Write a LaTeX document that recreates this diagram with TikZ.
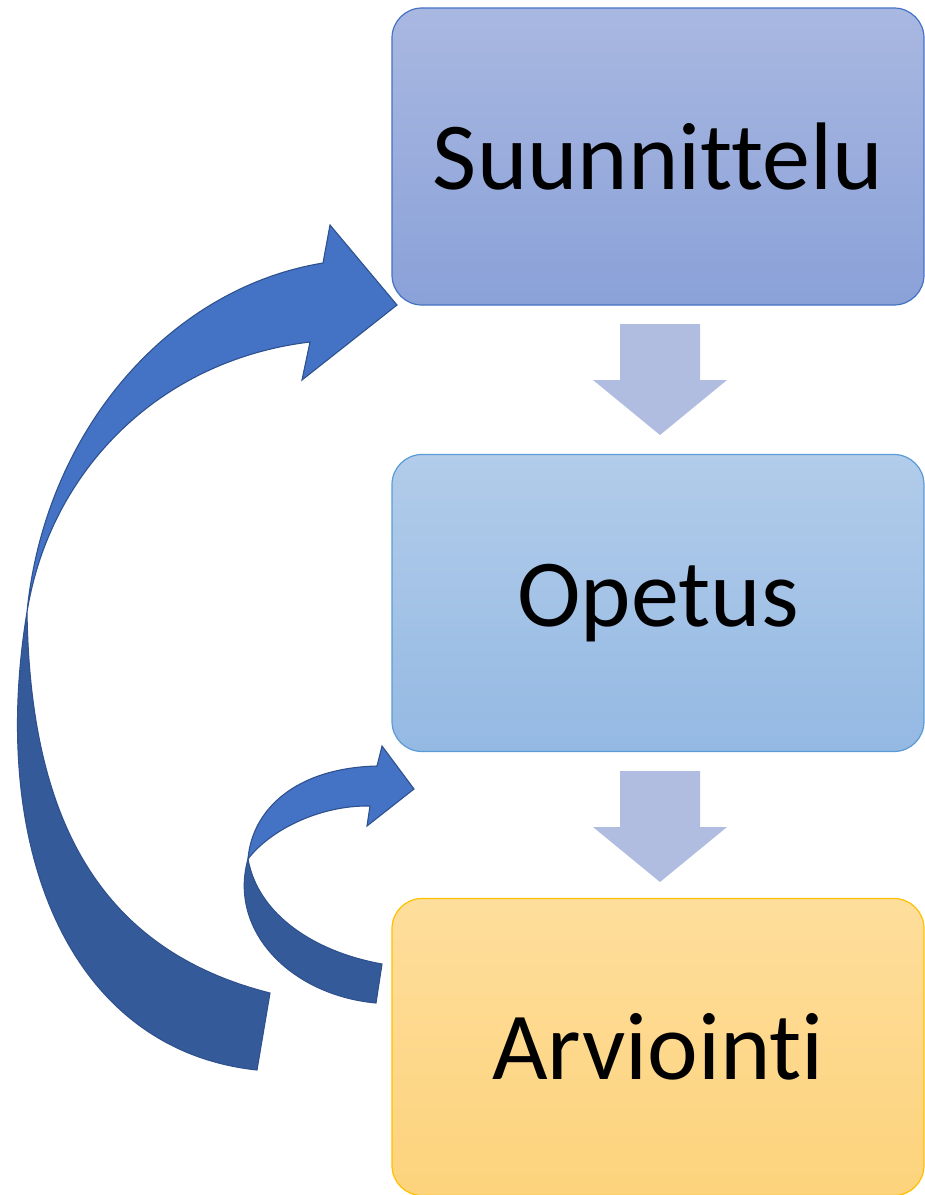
\documentclass[tikz,border=0pt]{standalone}
\usepackage{fontspec}
\setmainfont{Carlito}[RawFeature={-liga;-clig}]
\definecolor{sTop}{RGB}{169,184,225}
\definecolor{sBot}{RGB}{138,161,216}
\definecolor{sLine}{RGB}{68,114,196}
\definecolor{oTop}{RGB}{178,204,234}
\definecolor{oBot}{RGB}{148,185,227}
\definecolor{oLine}{RGB}{91,155,213}
\definecolor{aTop}{RGB}{254,222,156}
\definecolor{aBot}{RGB}{253,211,124}
\definecolor{aLine}{RGB}{255,192,0}
\definecolor{downC}{RGB}{176,189,224}
\definecolor{bandLight}{RGB}{68,114,196}
\definecolor{bandDark}{RGB}{53,90,154}
\definecolor{bandLine}{RGB}{47,82,143}
\tikzset{
  stage/.style={draw, line width=1.2pt, rounded corners=30pt, inner sep=0pt,
    minimum width=532pt, minimum height=297pt, font=\fontsize{96}{110}\selectfont},
  downarrow/.style={fill=downC},
  bandfront/.style={fill=bandLight, draw=bandLine, line width=1.1pt, line join=miter},
  bandback/.style={fill=bandDark, draw=bandLine, line width=1.1pt, line join=miter}
}
\begin{document}
\begin{tikzpicture}[x=1pt,y=-1pt]
\useasboundingbox (0,0) rectangle (925,1195);
\node[stage, draw=sLine, top color=sTop, bottom color=sBot] (S) at (658,156.5) {Suunnittelu};
\node[stage, draw=oLine, top color=oTop, bottom color=oBot] (O) at (658,603) {Opetus};
\node[stage, draw=aLine, top color=aTop, bottom color=aBot] (A) at (658,1047) {Arviointi};
% down arrows
\fill[downarrow] (620,324) -- (700,324) -- (700,380) -- (727,380) -- (660,435) -- (593,380) -- (620,380) -- cycle;
\fill[downarrow] (620,771) -- (700,771) -- (700,827) -- (727,827) -- (660,882) -- (593,827) -- (620,827) -- cycle;
% big curved arrow: back part
\filldraw[bandback] (27,612) .. controls (-12,850) and (70,1050) .. (257,1070)
  -- (270,993) .. controls (100,950) and (30,820) .. cycle;
% big curved arrow: front part
\filldraw[bandfront] (27,612) .. controls (45,430) and (170,288) .. (323,263)
  -- (330,225) -- (397,305) -- (302,380) -- (310,342)
  .. controls (160,360) and (50,470) .. cycle;
% small curved arrow: back part
\filldraw[bandback] (248,859) .. controls (228,930) and (290,995) .. (376,1003)
  -- (382,964) .. controls (315,952) and (258,915) .. cycle;
% small curved arrow: front part
\filldraw[bandfront] (248,859) .. controls (252,810) and (295,768) .. (377,766)
  -- (382,746) -- (414,789) -- (367,826) -- (370,806)
  .. controls (320,805) and (270,830) .. cycle;
\end{tikzpicture}
\end{document}
